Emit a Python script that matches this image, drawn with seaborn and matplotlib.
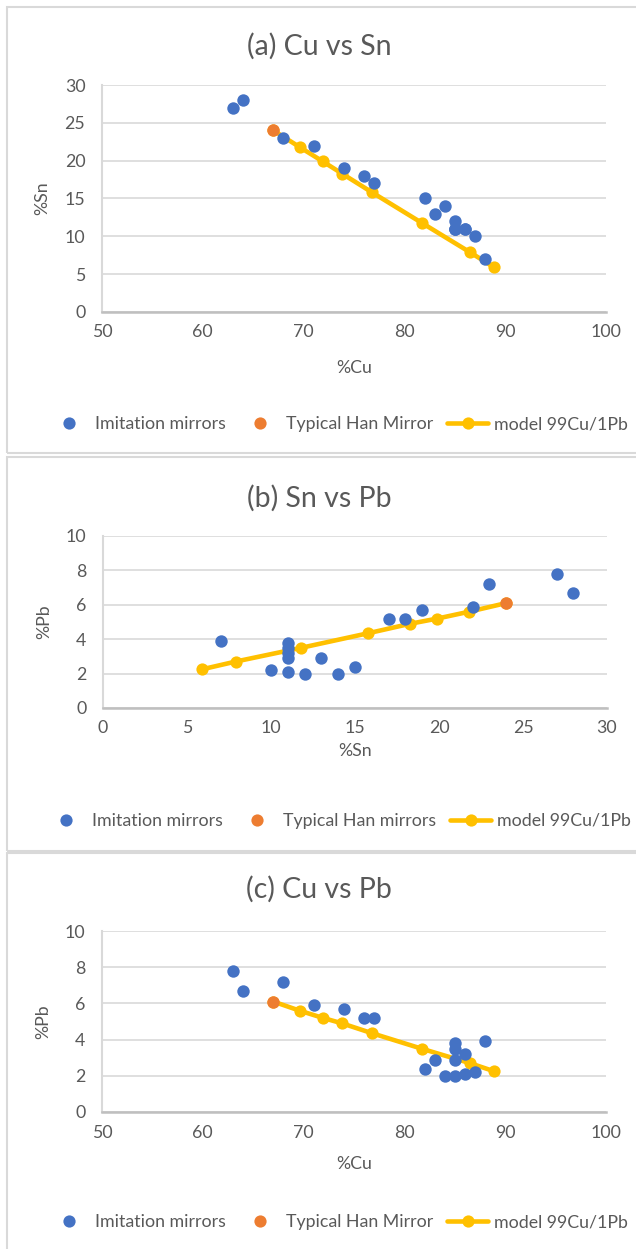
import matplotlib
matplotlib.use("Agg")
import matplotlib.pyplot as plt
import seaborn as sns
import pandas as pd
from matplotlib.lines import Line2D
from matplotlib.patches import Rectangle

sns.set_theme(style="white")
plt.rcParams['font.family'] = ['Lato', 'DejaVu Sans']

# ---- data ----
imit_cu = [63, 64, 68, 71, 74, 76, 77, 82, 83, 84, 85, 85, 85, 85, 86, 86, 87, 88]
imit_sn = [27, 28, 23, 22, 19, 18, 17, 15, 13, 14, 12, 11, 11, 11, 11, 11, 10, 7]
imit_pb = [7.8, 6.7, 7.2, 5.9, 5.7, 5.2, 5.2, 2.4, 2.9, 2.0, 2.0, 3.8, 3.5, 2.9, 3.2, 2.1, 2.2, 3.9]

han_cu = [67]
han_sn = [24]
han_pb = [6.1]

model_cu = [67.0, 69.6, 71.9, 73.8, 76.8, 81.7, 86.5, 88.9]
model_sn = [24.0, 21.8, 19.9, 18.3, 15.8, 11.8, 7.9, 5.9]
model_pb = [6.1, 5.6, 5.2, 4.9, 4.35, 3.5, 2.7, 2.25]

imit = pd.DataFrame({"Cu": imit_cu, "Sn": imit_sn, "Pb": imit_pb})
han = pd.DataFrame({"Cu": han_cu, "Sn": han_sn, "Pb": han_pb})
model = pd.DataFrame({"Cu": model_cu, "Sn": model_sn, "Pb": model_pb})

BLUE = "#4472C4"
ORANGE = "#ED7D31"
YELLOW = "#FFC000"
TXT = "#595959"
GRID = "#D9D9D9"
SPINE = "#BFBFBF"

W, H = 636, 1249
fig = plt.figure(figsize=(W / 100, H / 100), dpi=100)


def fx(px):
    return px / W


def fy(py):
    return 1 - py / H


# panel borders
for top, bot in [(7, 453), (457, 851), (853, 1260)]:
    fig.patches.append(Rectangle((fx(7), fy(bot)), fx(700) - fx(7), fy(top) - fy(bot),
                                 transform=fig.transFigure, fill=False,
                                 edgecolor=GRID, linewidth=1.5, zorder=0))

panels = [
    dict(x="Cu", y="Sn", left=102, right=606, top=85, bottom=312, xlim=(50, 100), xstep=10,
         ylim=(0, 30), ystep=5, title="(a) Cu vs Sn", title_y=46, xlabel="%Cu", ylabel="%Sn",
         xlabel_y=368, legend_y=424, han_label="Typical Han Mirror"),
    dict(x="Sn", y="Pb", left=103, right=607, top=536, bottom=708, xlim=(0, 30), xstep=5,
         ylim=(0, 10), ystep=2, title="(b) Sn vs Pb", title_y=498, xlabel="%Sn", ylabel="%Pb",
         xlabel_y=751, legend_y=821, han_label="Typical Han mirrors"),
    dict(x="Cu", y="Pb", left=102, right=606, top=931, bottom=1112, xlim=(50, 100), xstep=10,
         ylim=(0, 10), ystep=2, title="(c) Cu vs Pb", title_y=889, xlabel="%Cu", ylabel="%Pb",
         xlabel_y=1164, legend_y=1222, han_label="Typical Han Mirror"),
]

FS = 12.8
for p in panels:
    ax = fig.add_axes([fx(p["left"]), fy(p["bottom"]), fx(p["right"]) - fx(p["left"]),
                       fy(p["top"]) - fy(p["bottom"])])
    sns.lineplot(data=model, x=p["x"], y=p["y"], sort=False, color=YELLOW, linewidth=3.3,
                 marker="o", markersize=8.8, markeredgewidth=0, ax=ax, zorder=3, legend=False)
    sns.scatterplot(data=imit, x=p["x"], y=p["y"], color=BLUE, s=80, linewidth=0, ax=ax,
                    zorder=4, legend=False)
    sns.scatterplot(data=han, x=p["x"], y=p["y"], color=ORANGE, s=80, linewidth=0, ax=ax,
                    zorder=5, legend=False)
    ax.set_xlim(*p["xlim"])
    ax.set_ylim(*p["ylim"])
    ax.set_xticks(range(p["xlim"][0], p["xlim"][1] + 1, p["xstep"]))
    ax.set_yticks(range(p["ylim"][0], p["ylim"][1] + 1, p["ystep"]))
    ax.grid(axis="y", color=GRID, linewidth=1.2)
    ax.grid(axis="x", visible=False)
    ax.set_axisbelow(True)
    for s in ["top", "right"]:
        ax.spines[s].set_visible(False)
    ax.spines["left"].set_color(GRID)
    ax.spines["left"].set_linewidth(1.5)
    ax.spines["bottom"].set_color(SPINE)
    ax.spines["bottom"].set_linewidth(1.8)
    ax.tick_params(axis="both", length=0, labelsize=FS, labelcolor=TXT)
    ax.tick_params(axis="x", pad=9)
    ax.tick_params(axis="y", pad=12)
    ax.set_xlabel("")
    ax.set_ylabel(p["ylabel"], fontsize=FS, color=TXT, labelpad=10)
    cx = (p["left"] + p["right"]) / 2
    fig.text(fx(319), fy(p["title_y"]), p["title"], ha="center", va="center",
             fontsize=20.5, color=TXT)
    fig.text(fx(cx), fy(p["xlabel_y"]), p["xlabel"], ha="center", va="center",
             fontsize=FS, color=TXT)
    handles = [
        Line2D([], [], linestyle="none", marker="o", markersize=8.8, color=BLUE,
               markeredgewidth=0),
        Line2D([], [], linestyle="none", marker="o", markersize=8.8, color=ORANGE,
               markeredgewidth=0),
        Line2D([], [], color=YELLOW, linewidth=3.3, marker="o", markersize=8.8,
               markeredgewidth=0),
    ]
    labels = ["Imitation mirrors", p["han_label"], "model 99Cu/1Pb"]
    fig.legend(handles, labels, loc="center", bbox_to_anchor=(fx(338), fy(p["legend_y"])),
               ncol=3, frameon=False, fontsize=FS, handlelength=2.3, handletextpad=0.3,
               columnspacing=0.8, labelcolor=TXT)

fig.savefig("out.png", dpi=100)
